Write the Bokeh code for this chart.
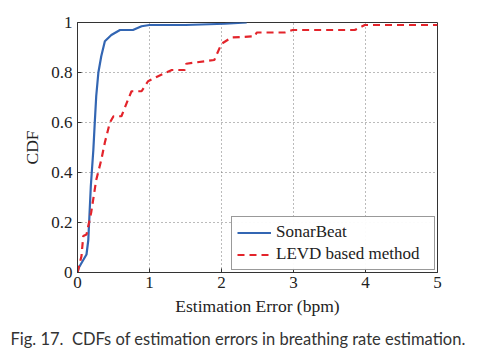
from bokeh.plotting import figure
from bokeh.models import FixedTicker, CustomJSTickFormatter, Legend, LegendItem, Title
from bokeh.embed import file_html
from bokeh.resources import INLINE

# SonarBeat CDF (error in bpm, CDF)
sonar_x = [0.0, 0.02, 0.08, 0.125, 0.15, 0.185, 0.22, 0.24, 0.26, 0.29, 0.33, 0.38, 0.47, 0.59, 0.77, 0.89, 1.0, 1.5, 2.05, 2.35]
sonar_y = [0.0, 0.02, 0.05, 0.072, 0.13, 0.345, 0.49, 0.6, 0.705, 0.8, 0.865, 0.925, 0.95, 0.97, 0.97, 0.985, 0.99, 0.99, 0.995, 1.0]

# LEVD based method CDF
levd_x = [0.0, 0.055, 0.08, 0.125, 0.19, 0.26, 0.33, 0.38, 0.45, 0.5, 0.61, 0.7, 0.75, 0.89, 0.98, 1.12, 1.31, 1.49, 1.51, 1.9, 2.0, 2.14, 2.46, 2.49, 2.88, 2.99, 3.85, 3.99, 5.0]
levd_y = [0.0, 0.065, 0.146, 0.152, 0.24, 0.37, 0.45, 0.52, 0.6, 0.625, 0.625, 0.69, 0.725, 0.725, 0.765, 0.785, 0.81, 0.81, 0.835, 0.85, 0.915, 0.94, 0.945, 0.96, 0.96, 0.97, 0.97, 0.99, 0.99]

x_ticks = [0, 1, 2, 3, 4, 5]
y_ticks = [0, 0.2, 0.4, 0.6, 0.8, 1.0]

caption = "Fig. 17.\u00a0 CDFs of estimation errors in breathing rate estimation."

p = figure(width=467, height=357, x_range=(0, 5), y_range=(0, 1),
           output_backend="svg", toolbar_location=None,
           min_border_left=77, min_border_right=30, min_border_top=22, min_border_bottom=85)
p.outline_line_color = "#333333"
p.outline_line_width = 1
p.background_fill_color = "white"
p.border_fill_color = "white"

serif = "Liberation Serif"
for ax in (p.xaxis[0], p.yaxis[0]):
    ax.major_label_text_font = serif
    ax.major_label_text_font_size = "17px"
    ax.major_label_text_color = "#222222"
    ax.axis_label_text_font = serif
    ax.axis_label_text_font_size = "17.5px"
    ax.axis_label_text_font_style = "normal"
    ax.axis_label_text_color = "#222222"
    ax.axis_line_color = "#333333"
    ax.major_tick_in = 4
    ax.major_tick_out = 0
    ax.minor_tick_line_color = None
    ax.major_tick_line_color = "#333333"

p.xaxis.ticker = FixedTicker(ticks=x_ticks)
p.yaxis.ticker = FixedTicker(ticks=y_ticks)
fmt = CustomJSTickFormatter(code="return Number(tick.toFixed(1)).toString();")
p.xaxis.formatter = fmt
p.yaxis.formatter = fmt
p.xaxis.axis_label = "Estimation Error (bpm)"
p.yaxis.axis_label = "CDF"
p.xaxis.axis_label_standoff = 5
p.yaxis.axis_label_standoff = 6
p.xaxis.major_label_standoff = 4
p.yaxis.major_label_standoff = 5

p.grid.grid_line_color = "#777777"
p.grid.grid_line_dash = "1 3"
p.grid.grid_line_width = 1

r1 = p.line(sonar_x, sonar_y, line_color="#3366b3", line_width=2.2)
r2 = p.line(levd_x, levd_y, line_color="#e3242b", line_width=2.2, line_dash="7 5")

legend = Legend(items=[LegendItem(label="SonarBeat", renderers=[r1]),
                       LegendItem(label="LEVD based method", renderers=[r2])],
                location="bottom_right")
legend.label_text_font = serif
legend.label_text_font_size = "17px"
legend.label_text_color = "#222222"
legend.border_line_color = "#333333"
legend.border_line_width = 1
legend.glyph_width = 34
legend.glyph_height = 19
legend.label_height = 19
legend.label_width = 153
legend.spacing = 2
legend.padding = 5
legend.margin = 2
legend.label_standoff = 5
p.add_layout(legend, "center")

cap = Title(text=caption,
            text_font="Lato", text_font_size="16.5px", text_font_style="normal",
            text_color="#333333", align="left", offset=-67, standoff=16)
p.add_layout(cap, "below")

open("out.html", "w").write(file_html(p, INLINE))
